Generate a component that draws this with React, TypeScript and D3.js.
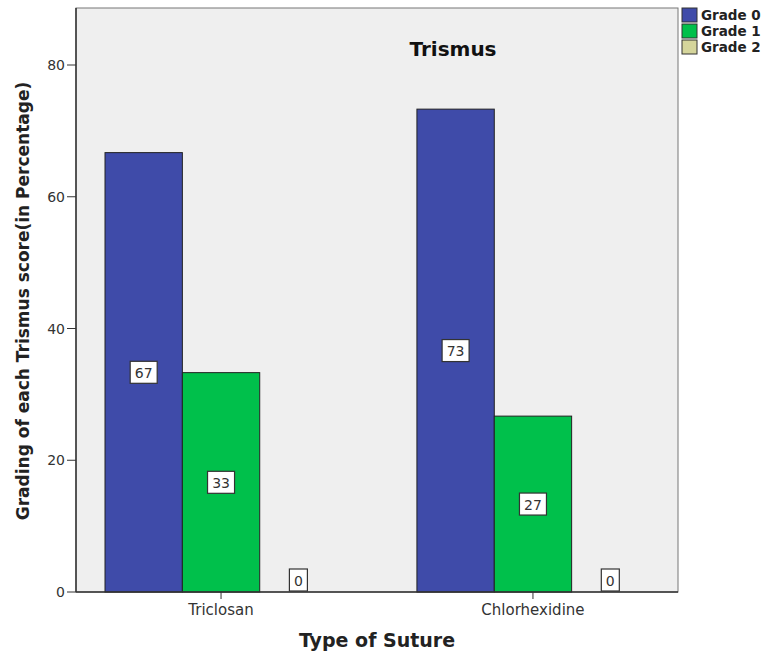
import React from "react";
import * as d3 from "d3";

const categories = ["Triclosan", "Chlorhexidine"];
const grades = ["Grade 0", "Grade 1", "Grade 2"];
const grade0 = [66.7, 73.3];
const grade1 = [33.3, 26.7];
const grade2 = [0, 0];
const labels0 = ["67", "73"];
const labels1 = ["33", "27"];
const labels2 = ["0", "0"];
const yTicks = [0, 20, 40, 60, 80];
const colors = ["#3F4BA9", "#00C04B", "#D5D59B"];

const W = 763, H = 656;
const left = 76, right = 678, top = 8, bottom = 592;
const FONT = "'DejaVu Sans', Verdana, sans-serif";

export default function App() {
  const y = d3.scaleLinear().domain([0, 80]).range([bottom, bottom - 527]);
  const x = d3.scaleBand().domain(categories).range([left, right]).paddingInner(0.256).paddingOuter(0.093);
  const sub = d3.scaleBand().domain(grades).range([0, x.bandwidth()]);
  const series = [grade0, grade1, grade2];
  const lbls = [labels0, labels1, labels2];
  return (
    <svg width={W} height={H} style={{ position: "absolute", left: 0, top: 0 }} fontFamily={FONT}>
      <rect x={0} y={0} width={W} height={H} fill="#fff" />
      <rect x={left} y={top} width={right - left} height={bottom - top} fill="#EFEFEF" stroke="#777" strokeWidth={1} />
      {series.map((vals, gi) =>
        categories.map((c, ci) => {
          const bx = (x(c) as number) + (sub(grades[gi]) as number);
          const v = vals[ci];
          return (
            <rect key={`b${gi}-${ci}`} x={bx} y={y(v)} width={sub.bandwidth()} height={bottom - y(v)}
              fill={colors[gi]} stroke="#222" strokeWidth={1} />
          );
        })
      )}
      {series.map((vals, gi) =>
        categories.map((c, ci) => {
          const cx = (x(c) as number) + (sub(grades[gi]) as number) + sub.bandwidth() / 2;
          const v = vals[ci];
          const cy = v > 0 ? (y(v) + bottom) / 2 : bottom - 12;
          const t = lbls[gi][ci];
          const bw = t.length * 9 + 9;
          return (
            <g key={`l${gi}-${ci}`}>
              <rect x={cx - bw / 2} y={cy - 11} width={bw} height={22} fill="#fff" stroke="#333" strokeWidth={1.2} />
              <text x={cx} y={cy + 5.5} textAnchor="middle" fontSize={14} fill="#333">{t}</text>
            </g>
          );
        })
      )}
      <line x1={left} x2={left} y1={top} y2={bottom} stroke="#333" strokeWidth={1.5} />
      <line x1={left} x2={right} y1={bottom} y2={bottom} stroke="#333" strokeWidth={1.5} />
      {yTicks.map((t) => (
        <g key={`yt${t}`}>
          <line x1={left - 9} x2={left} y1={y(t)} y2={y(t)} stroke="#333" />
          <text x={left - 11} y={y(t) + 5} textAnchor="end" fontSize={14} fill="#333">{t}</text>
        </g>
      ))}
      {categories.map((c) => {
        const cx = (x(c) as number) + x.bandwidth() / 2;
        return (
          <g key={`xt${c}`}>
            <line x1={cx} x2={cx} y1={bottom} y2={bottom + 7} stroke="#333" />
            <text x={cx} y={bottom + 23} textAnchor="middle" fontSize={15} fill="#333">{c}</text>
          </g>
        );
      })}
      <text x={453} y={56} textAnchor="middle" fontSize={20} fontWeight="bold" fill="#111">Trismus</text>
      <text transform={`translate(29,301) rotate(-90)`} textAnchor="middle" fontSize={17} fontWeight="bold" fill="#222">
        Grading of each Trismus score(in Percentage)
      </text>
      <text x={377} y={647} textAnchor="middle" fontSize={19} fontWeight="bold" fill="#222">Type of Suture</text>
      {grades.map((g, i) => (
        <g key={`lg${g}`}>
          <rect x={682} y={8 + i * 16} width={15} height={14} fill={colors[i]} stroke="#333" />
          <text x={701} y={20 + i * 16} fontSize={13.5} fontWeight="bold" fill="#222">{g}</text>
        </g>
      ))}
    </svg>
  );
}
